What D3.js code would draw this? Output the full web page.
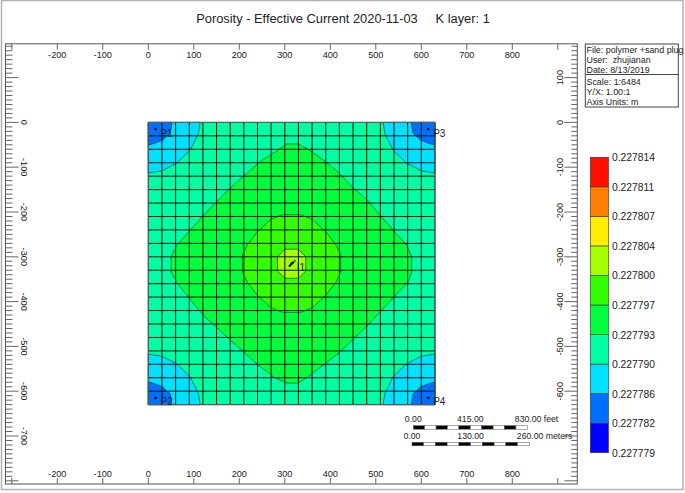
<!DOCTYPE html>
<html lang="en">
<head>
<meta charset="UTF-8">
<title>Porosity</title>
<script src="https://cdn.jsdelivr.net/npm/d3@7"></script>
<style>
  body { margin: 0; background: #fff; }
  text { font-family: "Liberation Sans", Arial, sans-serif; fill: #222; }
</style>
</head>
<body>
<svg width="685" height="493"></svg>
<script>
// values
var legendValues = ["0.227779", "0.227782", "0.227786", "0.227790", "0.227793", "0.227797", "0.227800", "0.227804", "0.227807", "0.227811", "0.227814"];
var legendColors = ["#0000ff", "#0070ff", "#00e1ff", "#00ffa5", "#00ff3c", "#33ff00", "#a8ff00", "#ffee00", "#ff7f00", "#ff1000"];
var xLabels = [-200, -100, 0, 100, 200, 300, 400, 500, 600, 700, 800];
var xMajor = [-300, -200, -100, 0, 100, 200, 300, 400, 500, 600, 700, 800, 900];
var yLeftLabels = [0, -100, -200, -300, -400, -500, -600, -700];
var yRightLabels = [100, 0, -100, -200, -300, -400, -500, -600];
var infoTop = ["File: polymer +sand plug", "User:  zhujianan", "Date: 8/13/2019"];
var infoBottom = ["Scale: 1:6484", "Y/X: 1.00:1", "Axis Units: m"];
var wells = [["P1", 16, -15], ["P2", 16, -615], ["P3", 615, -15], ["P4", 615, -615], ["I1", 315, -315]];

// contours, in metres. corner ones are measured from the corner of the model
var cornerCyan = [[114, 0], [110, 25], [92, 62], [63, 91], [30, 108], [0, 113]];
var cornerBlue = [[52, 0], [48, 24], [32, 39], [18, 45], [0, 51]];
var diamond = [[303, -48], [329, -48], [355, -62], [399, -95], [421, -115], [450, -146], [481, -173], [509, -207], [538, -240], [568, -274], [579, -300], [579, -334], [571, -356], [538, -392], [483, -452], [421, -513], [351, -568], [329, -582], [305, -582], [278, -570], [241, -541], [175, -481], [120, -430], [63, -358], [50, -334], [50, -300], [63, -274], [118, -211], [175, -151], [245, -88], [285, -62]];
var circle = [[295, -206], [335, -206], [361, -217], [390, -244], [412, -273], [423, -295], [423, -335], [412, -357], [390, -386], [361, -413], [335, -424], [295, -424], [269, -413], [240, -386], [218, -357], [207, -335], [207, -295], [218, -273], [240, -244], [269, -217]];
var centre = [[300, -283], [330, -283], [346, -300], [346, -332], [330, -348], [300, -348], [284, -332], [284, -300]];

var svg = d3.select("svg");
var x = d3.scaleLinear().domain([0, 800]).range([148.3, 512.3]);
var y = d3.scaleLinear().domain([0, -600]).range([122.4, 391.2]);
var line = d3.line().x(function(d) { return x(d[0]); }).y(function(d) { return y(d[1]); });

// window edge
svg.append("rect").attr("x", 1.5).attr("y", 0.5).attr("width", 681.5).attr("height", 489)
    .attr("fill", "none").attr("stroke", "#b0b0b0").attr("stroke-width", 1.5);

svg.append("text").attr("x", 343).attr("y", 23).attr("text-anchor", "middle").attr("font-size", 12.85)
    .style("white-space", "pre")
    .text("Porosity - Effective Current 2020-11-03     K layer: 1");

// map
var map = svg.append("g");
map.append("rect").attr("x", x(0)).attr("y", y(0)).attr("width", x(630) - x(0)).attr("height", y(-630) - y(0))
    .attr("fill", legendColors[3]);

function corner(points, cx, cy, sx, sy) {
    var p = points.map(function(d) { return [cx + sx * d[0], cy + sy * d[1]]; });
    p.push([cx, cy]);
    return p;
}
[[0, 0, 1, -1], [630, 0, -1, -1], [0, -630, 1, 1], [630, -630, -1, 1]].forEach(function(c) {
    map.append("path").attr("d", line(corner(cornerCyan, c[0], c[1], c[2], c[3])) + "Z")
        .attr("fill", legendColors[2]).attr("stroke", "#0a5a5a").attr("stroke-width", 0.8);
    map.append("path").attr("d", line(corner(cornerBlue, c[0], c[1], c[2], c[3])) + "Z")
        .attr("fill", legendColors[1]).attr("stroke", "#063a70").attr("stroke-width", 0.8);
});
[[diamond, 4], [circle, 5], [centre, 6]].forEach(function(s) {
    map.append("path").attr("d", line(s[0]) + "Z").attr("fill", legendColors[s[1]])
        .attr("stroke", "#0a6a2a").attr("stroke-width", 0.8);
});

// grid, 21 x 21 cells of 30 m
var cells = d3.range(0, 660, 30);
map.selectAll(".gx").data(cells).join("line").attr("x1", function(d) { return x(d); }).attr("x2", function(d) { return x(d); })
    .attr("y1", y(0)).attr("y2", y(-630)).attr("stroke", "#00110c").attr("stroke-width", 1);
map.selectAll(".gy").data(cells).join("line").attr("y1", function(d) { return y(-d); }).attr("y2", function(d) { return y(-d); })
    .attr("x1", x(0)).attr("x2", x(630)).attr("stroke", "#00110c").attr("stroke-width", 1);
map.append("rect").attr("x", x(0)).attr("y", y(0)).attr("width", x(630) - x(0)).attr("height", y(-630) - y(0))
    .attr("fill", "none").attr("stroke", "#666").attr("stroke-width", 1);

// wells
wells.forEach(function(w) {
    map.append("circle").attr("cx", x(w[1])).attr("cy", y(w[2])).attr("r", 1.3).attr("fill", "#000");
    map.append("text").attr("x", x(w[1]) + 5).attr("y", y(w[2]) + 7.5).attr("font-size", 10).text(w[0]);
});
map.append("line").attr("x1", x(309)).attr("y1", y(-322)).attr("x2", x(323)).attr("y2", y(-308))
    .attr("stroke", "#000").attr("stroke-width", 2).attr("stroke-dasharray", "3 1");

// frame and ticks
var left = 5.5, right = 577.3, top_ = 43.8, bottom = 484;
svg.append("rect").attr("x", left).attr("y", top_).attr("width", right - left).attr("height", bottom - top_)
    .attr("fill", "none").attr("stroke", "#555").attr("stroke-width", 1);

var tickColor = "#666";
var yTicks = d3.range(170, -810, -10);
svg.selectAll(".yl").data(yTicks).join("line")
    .attr("x1", left).attr("x2", function(d) { return left + (d % 100 === 0 ? 13 : 7); })
    .attr("y1", function(d) { return y(d); }).attr("y2", function(d) { return y(d); })
    .attr("stroke", tickColor);
svg.selectAll(".yr").data(yTicks).join("line")
    .attr("x1", right).attr("x2", function(d) { return right - (d % 100 === 0 ? 13 : 6); })
    .attr("y1", function(d) { return y(d); }).attr("y2", function(d) { return y(d); })
    .attr("stroke", tickColor);
svg.selectAll(".xt").data(xMajor).join("line")
    .attr("x1", function(d) { return x(d); }).attr("x2", function(d) { return x(d); })
    .attr("y1", top_).attr("y2", top_ + 6).attr("stroke", tickColor);
svg.selectAll(".xb").data(xMajor).join("line")
    .attr("x1", function(d) { return x(d); }).attr("x2", function(d) { return x(d); })
    .attr("y1", bottom).attr("y2", bottom - 6).attr("stroke", tickColor);

svg.selectAll(".xtl").data(xLabels).join("text").attr("x", function(d) { return x(d); }).attr("y", 58)
    .attr("text-anchor", "middle").attr("font-size", 9.2).text(function(d) { return d; });
svg.selectAll(".xbl").data(xLabels).join("text").attr("x", function(d) { return x(d); }).attr("y", 476.5)
    .attr("text-anchor", "middle").attr("font-size", 9.2).text(function(d) { return d; });
svg.selectAll(".ylt").data(yLeftLabels).join("text").attr("text-anchor", "middle").attr("font-size", 9.2)
    .attr("transform", function(d) { return "translate(21," + y(d) + ") rotate(90)"; }).text(function(d) { return d; });
svg.selectAll(".yrt").data(yRightLabels).join("text").attr("text-anchor", "middle").attr("font-size", 9.2)
    .attr("transform", function(d) { return "translate(563,"+ y(d) + ") rotate(-90)"; }).text(function(d) { return d; });

// info box
svg.append("rect").attr("x", 585.3).attr("y", 44).attr("width", 93).attr("height", 63).attr("fill", "#fff").attr("stroke", "#444");
svg.append("line").attr("x1", 585.3).attr("x2", 678.3).attr("y1", 74.5).attr("y2", 74.5).attr("stroke", "#444");
infoTop.forEach(function(t, i) {
    svg.append("text").attr("x", 586.5).attr("y", 53 + i * 10).attr("font-size", 8.9).style("white-space", "pre").text(t);
});
infoBottom.forEach(function(t, i) {
    svg.append("text").attr("x", 586.5).attr("y", 85 + i * 10).attr("font-size", 8.9).text(t);
});

// colour legend
var legendY = d3.scaleLinear().domain([0, 10]).range([452.7, 157.3]);
svg.selectAll(".lg").data(legendColors).join("rect").attr("x", 590.3).attr("width", 18.2)
    .attr("y", function(d, i) { return legendY(i + 1); }).attr("height", function(d, i) { return legendY(i) - legendY(i + 1); })
    .attr("fill", function(d) { return d; }).attr("stroke", "#333").attr("stroke-width", 0.6);
svg.selectAll(".ll").data(legendValues).join("text").attr("x", 612).attr("y", function(d, i) { return legendY(i) + 4; })
    .attr("font-size", 10.3).text(function(d) { return d; });

// scale bars
var scaleBars = [
    { x0: 413.3, x1: 527.3, y: 425.7, labelY: 422, labels: ["0.00", "415.00", "830.00 feet"] },
    { x0: 412, x1: 529.3, y: 442.3, labelY: 439, labels: ["0.00", "130.00", "260.00 meters"] }
];
scaleBars.forEach(function(b) {
    var sx = d3.scaleLinear().domain([0, 10]).range([b.x0, b.x1]);
    svg.selectAll(null).data(d3.range(10)).join("rect").attr("x", function(d) { return sx(d); }).attr("y", b.y)
        .attr("width", function(d) { return sx(d + 1) - sx(d); }).attr("height", 3.5)
        .attr("fill", function(d) { return d % 2 ? "#fff" : "#000"; }).attr("stroke", "#555").attr("stroke-width", 0.5);
    svg.append("text").attr("x", b.x0).attr("y", b.labelY).attr("text-anchor", "middle").attr("font-size", 8.7).text(b.labels[0]);
    svg.append("text").attr("x", sx(5)).attr("y", b.labelY).attr("text-anchor", "middle").attr("font-size", 8.7).text(b.labels[1]);
    svg.append("text").attr("x", b.x1 - 12.5).attr("y", b.labelY).attr("font-size", 8.7).text(b.labels[2]);
});
</script>
</body>
</html>
